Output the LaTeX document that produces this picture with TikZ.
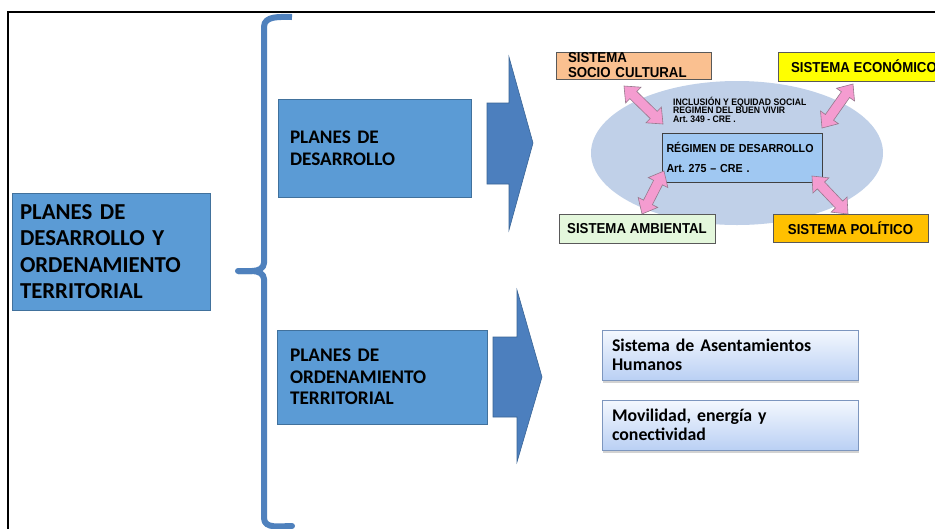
\documentclass[tikz,border=0pt]{standalone}
\usepackage{fontspec}
\setmainfont{Carlito}
\newfontfamily\arialfont[FakeStretch=0.92]{Liberation Sans}
\usetikzlibrary{calc,shapes.geometric,shadows}
\frenchspacing

\definecolor{boxblue}{HTML}{5B9BD5}
\definecolor{boxedge}{HTML}{41719C}
\definecolor{arrowblue}{HTML}{4C7FBE}
\definecolor{arrowedge}{HTML}{3A6596}
\definecolor{braceblue}{HTML}{4F81BD}
\definecolor{ellblue}{RGB}{192,208,232}
\definecolor{innerblue}{RGB}{160,200,242}
\definecolor{peach}{HTML}{FAC090}
\definecolor{lemon}{HTML}{FFFF00}
\definecolor{mint}{RGB}{228,247,220}
\definecolor{gold}{HTML}{FFC000}
\definecolor{pinkfill}{RGB}{244,156,208}
\definecolor{pinkedge}{RGB}{150,120,140}
\definecolor{gradtop}{RGB}{244,248,254}
\definecolor{gradbot}{RGB}{186,208,244}
\definecolor{gradedge}{RGB}{125,150,190}

% fat double-headed arrow between two named points
\newcommand\fatarrow[2]{%
  \path ($(#1)!13pt!(#2)$) coordinate (fa-h1)
        ($(#2)!13pt!(#1)$) coordinate (fa-h2);
  \filldraw[pinkarrow] (#1)
    -- ($(fa-h1)!11pt!90:(#2)$) -- ($(fa-h1)!5pt!90:(#2)$)
    -- ($(fa-h2)!5pt!-90:(#1)$) -- ($(fa-h2)!11pt!-90:(#1)$)
    -- (#2)
    -- ($(fa-h2)!11pt!90:(#1)$) -- ($(fa-h2)!5pt!90:(#1)$)
    -- ($(fa-h1)!5pt!-90:(#2)$) -- ($(fa-h1)!11pt!-90:(#2)$)
    -- cycle;}

\begin{document}
\begin{tikzpicture}[x=1pt,y=-1pt,
  bluebox/.style={draw=boxedge, fill=boxblue, line width=0.8pt, inner sep=0pt,
    align=left, text=black},
  blockarrow/.style={fill=arrowblue, draw=arrowedge, line width=0.6pt},
  brace/.style={draw=braceblue, line width=6pt, line join=round},
  sysbox/.style={draw=black!65, line width=0.9pt, inner sep=0pt,
    font=\arialfont\bfseries\fontsize{14.4}{15}\selectfont},
  gradbox/.style={draw=gradedge, line width=0.8pt, top color=gradtop,
    bottom color=gradbot, minimum width=256, minimum height=50, inner sep=0pt,
    text width=236, align=left,
    drop shadow={shadow xshift=1pt, shadow yshift=-2.5pt, opacity=0.35},
    font=\bfseries\fontsize{17.8}{18.5}\selectfont},
  pinkarrow/.style={fill=pinkfill, draw=pinkedge, line width=0.6pt, line join=miter},
  smalltext/.style={inner sep=0pt, anchor=base west,
    font=\arialfont\bfseries\fontsize{9.4}{9}\selectfont}]

\clip (0,0) rectangle (935,528);
\fill[white] (0,0) rectangle (935,528);

% outer frame
\draw[line width=2pt] (8,530) -- (8,12) -- (937,12);

% curly bracket
\draw[brace] (292,17) to[out=180,in=90] (264,27) -- (264,263)
  to[out=270,in=0] (252,271) -- (238,271);
\draw[brace, line cap=round] (238,271) -- (252,271)
  to[out=0,in=90] (264,279) -- (264,518) to[out=270,in=180] (292,526);

% main boxes
\node[bluebox, minimum width=198, minimum height=117, text width=182,
  font=\bfseries\fontsize{22.8}{26.5}\selectfont] (pdot) at (111,251.5)
  {PLANES DE\\DESARROLLO Y\\ORDENAMIENTO\\TERRITORIAL};
\node[bluebox, minimum width=193, minimum height=98, text width=169,
  font=\bfseries\fontsize{19.2}{22}\selectfont] (pd) at (374.5,148)
  {PLANES DE\\DESARROLLO};
\node[bluebox, minimum width=210, minimum height=94, text width=184,
  font=\bfseries\fontsize{19.3}{21.5}\selectfont] (pot) at (382,377)
  {PLANES DE\\ORDENAMIENTO\\TERRITORIAL};

% block arrows
\filldraw[blockarrow] (487,103) -- (509,103) -- (509,57) -- (533,143)
  -- (509,230) -- (509,184) -- (487,184) -- cycle;
\filldraw[blockarrow] (493,337) -- (517,337) -- (517,290) -- (542,377)
  -- (517,462) -- (517,417) -- (493,417) -- cycle;

% development regime
\node[ellipse, fill=ellblue, minimum width=292, minimum height=144, inner sep=0pt]
  (ell) at (737,153) {};
\node[smalltext] (inc1) at (673,105) {INCLUSIÓN Y EQUIDAD SOCIAL};
\node[smalltext] (inc2) at (673,113.5) {REGIMEN DEL BUEN VIVIR};
\node[smalltext] (inc3) at (673,122.5) {Art. 349 - CRE .};
\node[draw=black!75, line width=0.9pt, fill=innerblue, minimum width=160,
  minimum height=49, inner sep=0pt, text width=151, align=left,
  font=\arialfont\bfseries\fontsize{11.6}{20}\selectfont] (reg) at (742,157.5)
  {RÉGIMEN DE DESARROLLO\\Art. 275 – CRE .};

\node[sysbox, fill=peach, minimum width=155, minimum height=27, text width=131,
  align=left] (soc) at (633.5,65.5) {SISTEMA\\SOCIO CULTURAL};
\node[sysbox, fill=lemon, minimum width=172, minimum height=29] (eco)
  at (864,66.5) {SISTEMA ECONÓMICO};
\node[sysbox, fill=mint, minimum width=156, minimum height=29] (amb)
  at (637,228.5) {SISTEMA AMBIENTAL};
\node[sysbox, fill=gold, minimum width=155, minimum height=28] (pol)
  at (850.5,228) {SISTEMA POLÍTICO};

\coordinate (a1) at (624,86);  \coordinate (b1) at (663,124);
\coordinate (a2) at (853,84);  \coordinate (b2) at (822,128);
\coordinate (a3) at (664,171); \coordinate (b3) at (642,214);
\coordinate (a4) at (812,176); \coordinate (b4) at (848,214);
\fatarrow{a1}{b1}
\fatarrow{a2}{b2}
\fatarrow{a3}{b3}
\fatarrow{a4}{b4}

% territorial systems
\node[gradbox] (asent) at (730,355) {Sistema de Asentamientos\\Humanos};
\node[gradbox] (movil) at (730,425) {Movilidad, energía y\\conectividad};

\end{tikzpicture}
\end{document}
